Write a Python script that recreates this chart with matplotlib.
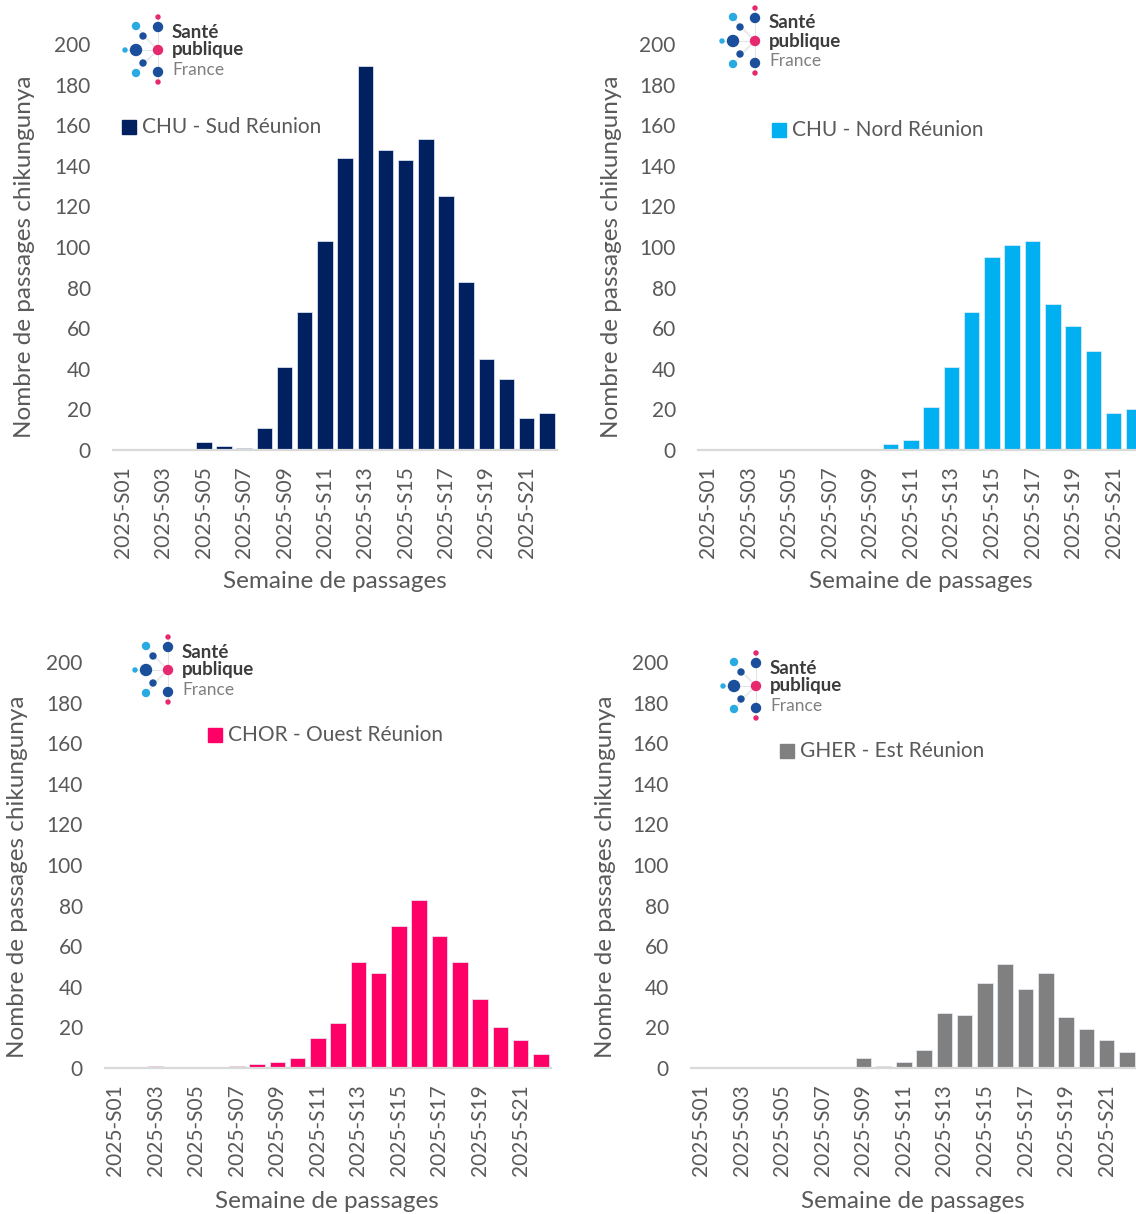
import matplotlib.pyplot as plt
from matplotlib.patches import Circle, Rectangle

plt.rcParams['font.family'] = ['Lato', 'DejaVu Sans']

weeks = ['2025-S01', '2025-S02', '2025-S03', '2025-S04', '2025-S05', '2025-S06',
         '2025-S07', '2025-S08', '2025-S09', '2025-S10', '2025-S11', '2025-S12',
         '2025-S13', '2025-S14', '2025-S15', '2025-S16', '2025-S17', '2025-S18',
         '2025-S19', '2025-S20', '2025-S21', '2025-S22']

chu_sud = [0, 0, 0, 0, 4, 2, 1, 11, 41, 68, 103, 144, 189, 148, 143, 153, 125, 83, 45, 35, 16, 18]
chu_nord = [0, 0, 0, 0, 0, 0, 0, 0, 0, 3, 5, 21, 41, 68, 95, 101, 103, 72, 61, 49, 18, 20]
chor_ouest = [0, 0, 1, 0, 0, 0, 1, 2, 3, 5, 15, 22, 52, 47, 70, 83, 65, 52, 34, 20, 14, 7]
gher_est = [0, 0, 0, 0, 0, 0, 0, 0, 5, 1, 3, 9, 27, 26, 42, 51, 39, 47, 25, 19, 14, 8]

W, H = 1136, 1214
TXT = '#595959'

fig = plt.figure(figsize=(W / 100, H / 100), dpi=100)


def px_axes(x0, y0, x1, y1):
    # axes from pixel box (top-left origin)
    return fig.add_axes([x0 / W, 1 - y1 / H, (x1 - x0) / W, (y1 - y0) / H])


panels = [
    # values, colour, legend text, axes box, logo centre, legend square, ylabel pos, xlabel pos
    (chu_sud, '#002060', 'CHU - Sud Réunion', (113, 44, 557, 450), (158, 50), (129, 127), (25, 257), (335, 582)),
    (chu_nord, '#00B0F0', 'CHU - Nord Réunion', (698, 44, 1144, 450), (755, 41), (779, 130), (612, 257), (921, 582)),
    (chor_ouest, '#FF0066', 'CHOR - Ouest Réunion', (105, 662, 551, 1068), (168, 670), (215, 735), (18, 877), (327, 1201)),
    (gher_est, '#808080', 'GHER - Est Réunion', (691, 662, 1137, 1068), (756, 686), (787, 751), (605, 877), (913, 1201)),
]

for vals, col, name, box, logo, leg, ylab, xlab in panels:
    ax = px_axes(*box)
    x = list(range(len(weeks)))
    ax.bar(x, vals, width=0.77, color=col, edgecolor='#E8EEF8', linewidth=0.5, zorder=2)
    ax.set_xlim(-0.5, len(weeks) - 0.5)
    ax.set_ylim(0, 200)
    ax.set_yticks(range(0, 201, 20))
    ax.set_xticks(x[::2])
    ax.set_xticklabels(weeks[::2], rotation=90)
    ax.tick_params(axis='x', length=0, pad=12, labelsize=15, labelcolor=TXT)
    ax.tick_params(axis='y', length=0, pad=16, labelsize=15, labelcolor=TXT)
    for s in ('top', 'right', 'left'):
        ax.spines[s].set_visible(False)
    ax.spines['bottom'].set_color('#D9D9D9')
    ax.spines['bottom'].set_linewidth(1.6)
    ax.patch.set_alpha(0)

# overlay in pixel coordinates for labels, legends and logos
ov = fig.add_axes([0, 0, 1, 1], zorder=5)
ov.set_xlim(0, W)
ov.set_ylim(H, 0)
ov.axis('off')

dark, light, pink = '#1B4E9B', '#29ABE2', '#E6286E'
logo_dots = [
    (0, -33, 2, pink), (0, -23, 4.5, dark), (-22, -24, 3.5, light),
    (-15, -14, 3, dark), (-22, 0, 5.5, dark), (-33, 0, 2, light),
    (0, 0, 4.5, pink), (-15, 13, 3, dark), (-22, 23, 3.5, light),
    (0, 22, 4.5, dark), (0, 32, 2, pink),
]

for vals, col, name, box, logo, leg, ylab, xlab in panels:
    ov.text(ylab[0], ylab[1], 'Nombre de passages chikungunya', rotation=90,
            ha='center', va='center', fontsize=17.5, color=TXT)
    ov.text(xlab[0], xlab[1], 'Semaine de passages', ha='center', va='center',
            fontsize=17.5, color=TXT)
    ov.add_patch(Rectangle((leg[0] - 7, leg[1] - 7), 14, 14, color=col))
    ov.text(leg[0] + 13, leg[1], name, ha='left', va='center', fontsize=15, color=TXT)

    cx, cy = logo
    for dx, dy, r, c in logo_dots:
        ov.plot([cx, cx + dx], [cy, cy + dy], color='#E4E4E4', lw=0.6, zorder=1)
    for dx, dy, r, c in logo_dots:
        ov.add_patch(Circle((cx + dx, cy + dy), r, color=c, zorder=2))
    ov.text(cx + 14, cy - 18, 'Santé', ha='left', va='center', fontsize=13.5,
            fontweight='bold', color='#3C3C3C')
    ov.text(cx + 14, cy, 'publique', ha='left', va='center', fontsize=13.5,
            fontweight='bold', color='#3C3C3C')
    ov.text(cx + 14, cy + 20, 'France', ha='left', va='center', fontsize=12.5,
            color='#7F7F7F')

fig.savefig('out.png', dpi=100)
